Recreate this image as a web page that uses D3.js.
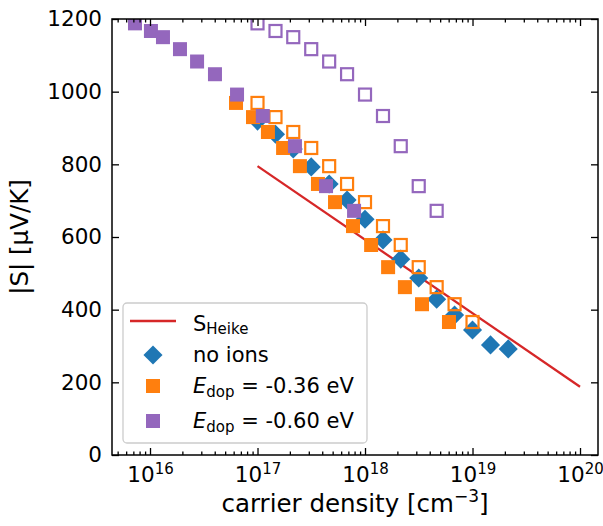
<!DOCTYPE html>
<html>
<head>
<meta charset="utf-8">
<script src="https://cdn.jsdelivr.net/npm/d3@7"></script>
<style>
  body { margin: 0; background: #fff; }
  text { font-family: "DejaVu Sans", sans-serif; fill: #000; }
</style>
</head>
<body>
<svg id="chart" width="603" height="526"></svg>
<script>
// data
const heikeN = [1e17, 1e20];
const heikeS = [795, 188];

const noIonsN = [1e17, 1.47e17, 2.15e17, 3.16e17, 4.64e17, 6.81e17, 1e18, 1.47e18, 2.15e18,
  3.16e18, 4.64e18, 6.81e18, 1e19, 1.47e19, 2.15e19];
const noIonsS = [919, 883, 842, 793, 746, 702, 649, 592, 539, 487, 429, 385, 344, 303, 292];

const dop36N = [6.31e16, 9.08e16, 1.25e17, 1.73e17, 2.48e17, 3.65e17, 5.26e17, 7.73e17,
  1.14e18, 1.64e18, 2.35e18, 3.39e18, 6.04e18];
const dop36OpenN = [1e17, 1.47e17, 2.15e17, 3.16e17, 4.64e17, 6.81e17, 1e18, 1.47e18,
  2.15e18, 3.16e18, 4.64e18, 6.81e18, 1e19];
const dop36S = [969, 930, 889, 845, 795, 746, 696, 630, 578, 517, 462, 415, 366];

const dop60N = [7.25e15, 1.02e16, 1.32e16, 1.9e16, 2.74e16, 4.02e16, 6.45e16, 1.12e17,
  2.23e17, 4.34e17, 7.91e17];
const dop60OpenN = [1e17, 1.47e17, 2.15e17, 3.16e17, 4.64e17, 6.81e17, 1e18, 1.47e18,
  2.15e18, 3.16e18, 4.64e18];
const dop60S = [1188, 1167, 1150, 1117, 1083, 1048, 992, 933, 850, 740, 672];

const xMajor = [1e16, 1e17, 1e18, 1e19, 1e20];
const xExp = ['16', '17', '18', '19', '20'];
const yTicks = [0, 200, 400, 600, 800, 1000, 1200];

const blue = '#1f77b4', orange = '#ff7f0e', purple = '#9467bd', red = '#d62728';

// set the dimensions and margins of the graph
const margin = { top: 19, right: 5, bottom: 71, left: 112 };
const width = 603 - margin.left - margin.right;
const height = 526 - margin.top - margin.bottom;

const root = d3.select('#chart');
const svg = root.append('g')
  .attr('transform', 'translate(' + margin.left + ',' + margin.top + ')');

const x = d3.scaleLog().domain([4.43e15, 1.47e20]).range([0, width]);
const y = d3.scaleLinear().domain([0, 1200]).range([height, 0]);

// minor log ticks
const xMinor = [];
for (let e = 15; e < 21; e++) {
  for (let k = 2; k <= 9; k++) {
    const v = k * Math.pow(10, e);
    if (v > x.domain()[0] && v < x.domain()[1]) xMinor.push(v);
  }
}

root.append('defs').append('clipPath').attr('id', 'clip')
  .append('rect').attr('width', width).attr('height', height);

const pts = (ns, ss) => ns.map((n, i) => ({ n: n, s: ss[i] }));

const plot = svg.append('g').attr('clip-path', 'url(#clip)');

// Heike line
plot.append('path')
  .datum(pts(heikeN, heikeS))
  .attr('fill', 'none')
  .attr('stroke', red)
  .attr('stroke-width', 2.3)
  .attr('d', d3.line().x(d => x(d.n)).y(d => y(d.s)));

// no ions diamonds
plot.append('g').selectAll('path')
  .data(pts(noIonsN, noIonsS))
  .enter().append('path')
  .attr('d', d3.symbol(d3.symbolSquare, 182))
  .attr('transform', d => 'translate(' + x(d.n) + ',' + y(d.s) + ') rotate(45)')
  .attr('fill', blue);

function filledSquares(data, color) {
  plot.append('g').selectAll('rect')
    .data(data)
    .enter().append('rect')
    .attr('x', d => x(d.n) - 7)
    .attr('y', d => y(d.s) - 7)
    .attr('width', 14)
    .attr('height', 14)
    .attr('fill', color);
}
function openSquares(data, color) {
  plot.append('g').selectAll('rect')
    .data(data)
    .enter().append('rect')
    .attr('x', d => x(d.n) - 6)
    .attr('y', d => y(d.s) - 6)
    .attr('width', 12)
    .attr('height', 12)
    .attr('fill', 'none')
    .attr('stroke', color)
    .attr('stroke-width', 2.2);
}

filledSquares(pts(dop36N, dop36S), orange);
openSquares(pts(dop36OpenN, dop36S), orange);
filledSquares(pts(dop60N, dop60S), purple);
openSquares(pts(dop60OpenN, dop60S), purple);

// axes, ticks pointing inward on all sides
function styleAxis(g) {
  g.select('.domain').remove();
  g.selectAll('.tick line').attr('stroke', '#000').attr('stroke-width', 1.3);
}

const bottom = svg.append('g').attr('transform', 'translate(0,' + height + ')')
  .call(d3.axisBottom(x).tickValues(xMajor).tickSize(-7).tickFormat(''))
  .call(styleAxis);
bottom.selectAll('.tick').append('text')
  .attr('y', 27)
  .attr('text-anchor', 'middle')
  .attr('font-size', 21.5)
  .each(function (d, i) {
    const t = d3.select(this);
    t.append('tspan').text('10');
    t.append('tspan').attr('dy', -8).attr('font-size', 15).text(xExp[i]);
  });
svg.append('g').attr('transform', 'translate(0,' + height + ')')
  .call(d3.axisBottom(x).tickValues(xMinor).tickSize(-3.5).tickFormat(''))
  .call(styleAxis);
svg.append('g')
  .call(d3.axisTop(x).tickValues(xMajor).tickSize(-7).tickFormat(''))
  .call(styleAxis);
svg.append('g')
  .call(d3.axisTop(x).tickValues(xMinor).tickSize(-3.5).tickFormat(''))
  .call(styleAxis);

svg.append('g')
  .call(d3.axisLeft(y).tickValues(yTicks).tickSize(-7).tickPadding(10).tickFormat(d3.format('d')))
  .call(styleAxis)
  .selectAll('text')
  .attr('font-size', 21.5)
  .attr('font-family', '"DejaVu Sans", sans-serif')
  .attr('fill', '#000');
svg.append('g').attr('transform', 'translate(' + width + ',0)')
  .call(d3.axisRight(y).tickValues(yTicks).tickSize(-7).tickFormat(''))
  .call(styleAxis);

// frame
svg.append('rect')
  .attr('width', width).attr('height', height)
  .attr('fill', 'none').attr('stroke', '#000').attr('stroke-width', 1.5);

// axis labels
const xl = svg.append('text')
  .attr('x', width / 2).attr('y', height + 57)
  .attr('text-anchor', 'middle').attr('font-size', 24.5);
xl.append('tspan').text('carrier density [cm');
xl.append('tspan').attr('dy', -10).attr('font-size', 17).text('\u22123');
xl.append('tspan').attr('dy', 10).text(']');

svg.append('text')
  .attr('transform', 'translate(' + (28 - margin.left) + ',' + height / 2 + ') rotate(-90)')
  .attr('text-anchor', 'middle').attr('font-size', 24.5)
  .text('|S| [\u03bcV/K]');

// legend
const lg = root.append('g');
lg.append('rect')
  .attr('x', 123).attr('y', 303).attr('width', 244).attr('height', 140)
  .attr('rx', 4).attr('fill', '#fff').attr('fill-opacity', 0.8)
  .attr('stroke', '#cccccc').attr('stroke-width', 1.3);

lg.append('line').attr('x1', 130).attr('x2', 176).attr('y1', 321).attr('y2', 321)
  .attr('stroke', red).attr('stroke-width', 2.3);
const t1 = lg.append('text').attr('x', 193).attr('y', 331).attr('font-size', 21);
t1.append('tspan').text('S');
t1.append('tspan').attr('dy', 3).attr('font-size', 15).text('Heike');

lg.append('path').attr('d', d3.symbol(d3.symbolSquare, 182))
  .attr('transform', 'translate(153,355) rotate(45)').attr('fill', blue);
lg.append('text').attr('x', 193).attr('y', 362).attr('font-size', 21).text('no ions');

const legE = [['-0.36', orange, 386], ['-0.60', purple, 421]];
legE.forEach(function (e) {
  lg.append('rect').attr('x', 146).attr('y', e[2] - 7).attr('width', 14).attr('height', 14)
    .attr('fill', e[1]);
  const t = lg.append('text').attr('x', 193).attr('y', e[2] + 7).attr('font-size', 21);
  t.append('tspan').attr('font-style', 'italic').text('E');
  t.append('tspan').attr('dy', 4).attr('font-size', 15).text('dop');
  t.append('tspan').attr('dy', -4).text(' = ' + e[0] + ' eV');
});
</script>
</body>
</html>
